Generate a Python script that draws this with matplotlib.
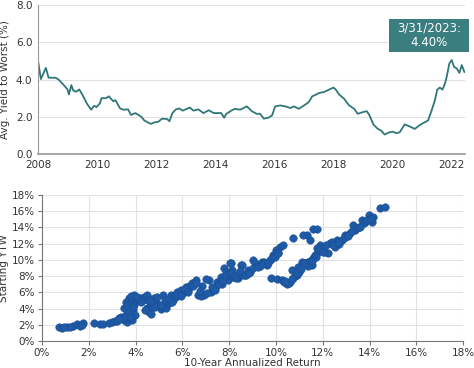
import matplotlib
matplotlib.use("Agg")
import matplotlib.pyplot as plt
from matplotlib.patches import Rectangle
from matplotlib.ticker import FuncFormatter

# top panel: average yield to worst, by decimal year
ytw_year = [2008.0, 2008.1, 2008.27, 2008.36, 2008.6, 2008.7, 2008.85, 2008.96, 2009.0, 2009.05,
            2009.13, 2009.2, 2009.3, 2009.4, 2009.5, 2009.65, 2009.8, 2009.9, 2009.98, 2010.1,
            2010.15, 2010.3, 2010.4, 2010.55, 2010.62, 2010.78, 2010.9, 2011.05, 2011.15, 2011.3,
            2011.5, 2011.6, 2011.82, 2011.95, 2012.07, 2012.2, 2012.37, 2012.45, 2012.55, 2012.67,
            2012.78, 2012.9, 2013.14, 2013.26, 2013.43, 2013.6, 2013.78, 2013.95, 2014.2, 2014.3,
            2014.37, 2014.55, 2014.67, 2014.84, 2015.07, 2015.24, 2015.4, 2015.52, 2015.64, 2015.8,
            2015.92, 2016.03, 2016.2, 2016.37, 2016.55, 2016.66, 2016.83, 2017.06, 2017.17, 2017.28,
            2017.42, 2017.51, 2017.68, 2017.85, 2018.0, 2018.08, 2018.19, 2018.36, 2018.53, 2018.7,
            2018.82, 2018.99, 2019.13, 2019.22, 2019.35, 2019.5, 2019.61, 2019.73, 2019.9, 2020.01,
            2020.13, 2020.24, 2020.41, 2020.58, 2020.75, 2020.9, 2021.03, 2021.2, 2021.32, 2021.43,
            2021.51, 2021.6, 2021.69, 2021.77, 2021.83, 2021.92, 2022.0, 2022.08, 2022.17, 2022.26,
            2022.34, 2022.43]
ytw_value = [5.05, 4.03, 4.63, 4.1, 4.1, 4.0, 3.75, 3.55, 3.47, 3.2,
             3.7, 3.4, 3.35, 3.47, 3.2, 2.73, 2.38, 2.59, 2.52, 2.73,
             3.0, 3.0, 3.1, 2.83, 2.9, 2.45, 2.38, 2.4, 2.1, 2.2,
             2.0, 1.8, 1.62, 1.7, 1.73, 1.9, 1.88, 1.76, 2.2, 2.4,
             2.45, 2.33, 2.5, 2.33, 2.4, 2.2, 2.35, 2.2, 2.2, 1.95,
             2.15, 2.34, 2.43, 2.38, 2.56, 2.3, 2.16, 2.16, 1.9, 1.95,
             2.07, 2.56, 2.61, 2.56, 2.47, 2.56, 2.43, 2.67, 2.8, 3.1,
             3.2, 3.28, 3.33, 3.46, 3.57, 3.46, 3.2, 2.97, 2.61, 2.43,
             2.16, 2.25, 2.3, 2.07, 1.59, 1.35, 1.26, 1.05, 1.17, 1.2,
             1.12, 1.17, 1.59, 1.48, 1.35, 1.53, 1.66, 1.8, 2.34, 2.88,
             3.46, 3.57, 3.46, 3.78, 4.14, 4.86, 5.05, 4.68, 4.6, 4.36,
             4.78, 4.41]
year_ticks = [2008, 2010, 2012, 2014, 2016, 2018, 2020, 2022]

# bottom panel: 10-year annualized return vs starting YTW (%)
ret = [0.71, 0.86, 1.07, 1.33, 1.5, 1.64, 1.76, 1.2, 0.95, 1.7,
       2.24, 2.47, 2.61, 2.86, 3.0, 3.14, 3.29, 3.39, 3.5, 3.57, 3.64, 3.71, 3.2, 3.45, 3.6,
       3.5, 3.57, 3.71, 3.81, 3.9, 3.93, 3.86, 4.0, 3.96, 3.75, 3.85, 3.65, 3.8, 3.95, 3.7,
       4.21, 4.36, 4.5, 4.47, 4.57, 4.67, 4.64, 4.79, 4.86, 4.93, 5.07, 5.19, 5.29, 5.43, 5.5,
       4.1, 4.3, 4.55, 4.75, 5.0, 5.15, 5.35, 5.6, 5.7, 5.85, 6.0, 6.2, 6.35, 6.5,
       5.64, 5.79, 5.93, 6.04, 6.14, 6.29, 6.43, 6.57, 6.67, 6.79, 6.93, 6.86, 7.14, 7.21, 7.36,
       7.5, 7.64, 7.76, 7.86, 7.93, 8.07, 8.14, 8.21, 8.36, 8.5, 7.3, 7.45, 7.0, 7.7, 8.0,
       8.03, 8.17, 8.31, 8.53, 8.67, 8.81, 9.03, 9.17, 9.39, 9.6, 9.74, 9.89, 10.0, 10.17, 10.31,
       8.4, 8.6, 8.9, 9.1, 9.3, 9.5, 9.8, 10.1,
       9.81, 10.03, 10.24, 10.46, 10.6, 10.74, 10.67, 10.89, 10.96, 11.1, 11.24, 11.39, 11.53,
       11.6, 11.67, 11.81, 11.89, 11.74, 11.46, 11.31, 11.17, 11.6, 11.77, 10.74,
       10.35, 10.55, 10.8, 11.0, 11.35, 11.7, 11.95, 12.1,
       12.03, 12.24, 12.31, 12.53, 12.6, 12.81, 12.96, 13.17, 13.31, 13.39, 13.53, 13.67, 13.81,
       13.96, 14.1, 14.17, 14.46, 14.67, 12.4, 12.7, 13.05, 13.45, 13.75, 14.0,
       # denser parts of the bands
       3.3, 3.55, 3.75, 3.9, 4.05, 4.25, 4.4, 4.6, 4.85, 5.1, 5.25, 5.45, 5.55, 5.75, 5.95,
       6.1, 6.25, 6.45, 6.6, 6.75, 7.05, 7.25, 7.4, 7.55, 7.7, 7.85, 8.1, 8.25, 8.45, 8.7,
       8.85, 9.0, 9.25, 9.45, 9.65, 9.95, 10.1, 10.4, 10.7, 10.9, 11.05, 11.2, 11.45, 11.55,
       11.85, 12.0, 12.15, 12.45, 12.65, 12.9, 13.1, 13.25, 13.6, 13.9, 14.05]
ytw = [1.77, 1.64, 1.77, 1.85, 2.1, 1.85, 2.18, 1.7, 1.7, 1.95,
       2.26, 2.1, 2.1, 2.26, 2.38, 2.5, 2.8, 3.0, 2.6, 3.2, 2.4, 3.4, 2.45, 2.7, 2.9,
       4.03, 4.85, 5.26, 4.64, 3.8, 5.67, 2.6, 5.05, 3.2, 4.3, 4.9, 4.5, 5.5, 4.5, 3.6,
       5.26, 5.38, 5.67, 4.03, 3.6, 3.33, 4.44, 5.26, 4.64, 5.47, 3.9, 5.67, 4.03, 4.64, 5.67,
       5.2, 5.1, 5.0, 4.2, 4.5, 4.3, 4.9, 5.0, 5.5, 5.9, 6.2, 6.6, 6.9, 7.2,
       5.26, 6.08, 6.29, 5.88, 6.7, 6.49, 7.11, 7.52, 5.67, 5.55, 5.67, 6.78, 7.52, 6.08, 6.49,
       7.32, 7.93, 8.96, 8.55, 7.52, 9.66, 8.75, 7.93, 7.73, 9.37, 6.3, 6.8, 7.6, 7.0, 8.2,
       9.58, 7.93, 7.73, 9.37, 8.14, 8.75, 9.99, 9.37, 9.78, 9.37, 9.99, 10.6, 11.22, 11.63, 11.84,
       8.3, 8.1, 8.5, 9.6, 9.2, 9.7, 10.1, 10.9,
       7.73, 7.6, 7.52, 7.03, 7.32, 7.73, 8.75, 8.14, 9.17, 9.78, 9.58, 9.78, 9.37,
       10.19, 10.6, 11.02, 11.84, 11.43, 12.45, 13.07, 13.07, 13.77, 13.77, 12.66,
       7.3, 7.1, 8.0, 8.5, 9.2, 10.3, 11.2, 11.0,
       11.43, 10.81, 12.04, 11.63, 12.45, 12.45, 13.07, 13.28, 14.3, 13.69, 14.1, 14.92, 14.71,
       15.54, 14.71, 15.33, 16.36, 16.56, 12.2, 12.0, 13.0, 13.9, 14.5, 15.1,
       2.75, 3.0, 2.9, 4.2, 5.4, 4.8, 3.8, 4.9, 4.2, 4.4, 5.0, 5.2, 4.8, 5.6, 5.6,
       6.4, 6.1, 6.8, 7.2, 6.2, 5.9, 6.6, 6.3, 7.0, 7.4, 8.1, 8.4, 8.0, 8.6, 8.2,
       8.4, 9.0, 9.1, 9.5, 9.6, 10.4, 10.8, 7.4, 7.7, 8.4, 8.9, 9.6, 9.9, 9.9,
       11.3, 11.0, 11.8, 11.9, 12.2, 12.7, 13.0, 13.6, 14.0, 14.9, 15.1]
pct_ticks = [0, 2, 4, 6, 8, 10, 12, 14, 16, 18]

line_color = "#2f7778"
dot_color = "#1f5aa6"
grid_color = "#e2e2e2"
text_color = "#333333"

fig = plt.figure(figsize=(4.74, 3.68), dpi=100)

# ---- top: yield to worst over time
ax1 = fig.add_axes([0.080, 0.5815, 0.901, 0.4045])
ax1.plot(ytw_year, ytw_value, color=line_color, lw=1.3)
ax1.set_xlim(2008, 2022.45)
ax1.set_ylim(0, 8)
ax1.set_xticks(year_ticks)
ax1.set_yticks([0, 2, 4, 6, 8])
ax1.yaxis.set_major_formatter(FuncFormatter(lambda v, p: "%.1f" % v))
ax1.grid(axis="y", color=grid_color, lw=0.8)
ax1.set_axisbelow(True)
for s in ["top", "right"]:
    ax1.spines[s].set_visible(False)
ax1.spines["left"].set_color("#999999")
ax1.spines["bottom"].set_color("#999999")
ax1.spines["bottom"].set_linewidth(1.2)
ax1.tick_params(axis="both", length=0, labelsize=7.5, colors=text_color, pad=4)
ax1.set_ylabel("Avg. Yield to Worst (%)", fontsize=7.5, color=text_color, labelpad=4)

# callout box for latest value
fig.patches.append(Rectangle((0.8207, 0.8587), 0.1688, 0.0897, transform=fig.transFigure,
                             facecolor="#3a7e80", edgecolor="none", zorder=5))
fig.text(0.905, 0.9035, "3/31/2023:\n4.40%", color="white", ha="center", va="center",
         fontsize=8.5, linespacing=1.15, zorder=6)

# ---- bottom: return vs starting YTW
ax2 = fig.add_axes([0.0886, 0.0734, 0.8884, 0.3966])
ax2.scatter(ret, ytw, s=30, color=dot_color, edgecolors="#174a8c", linewidths=0.3, zorder=3)
ax2.set_xlim(0, 18)
ax2.set_ylim(0, 18)
ax2.set_xticks(pct_ticks)
ax2.set_yticks(pct_ticks)
pct = FuncFormatter(lambda v, p: "%d%%" % v)
ax2.xaxis.set_major_formatter(pct)
ax2.yaxis.set_major_formatter(pct)
ax2.grid(True, color=grid_color, lw=0.8)
ax2.set_axisbelow(True)
for s in ["top", "right"]:
    ax2.spines[s].set_visible(False)
ax2.spines["left"].set_color("#777777")
ax2.spines["bottom"].set_color("#777777")
ax2.tick_params(axis="both", length=3, labelsize=7.5, pad=2,
                color="#777777", labelcolor=text_color)
ax2.set_xlabel("10-Year Annualized Return", fontsize=7.5, color=text_color, labelpad=0)
ax2.set_ylabel("Starting YTW", fontsize=7.5, color=text_color, labelpad=2)

fig.savefig("out.png", dpi=100)
